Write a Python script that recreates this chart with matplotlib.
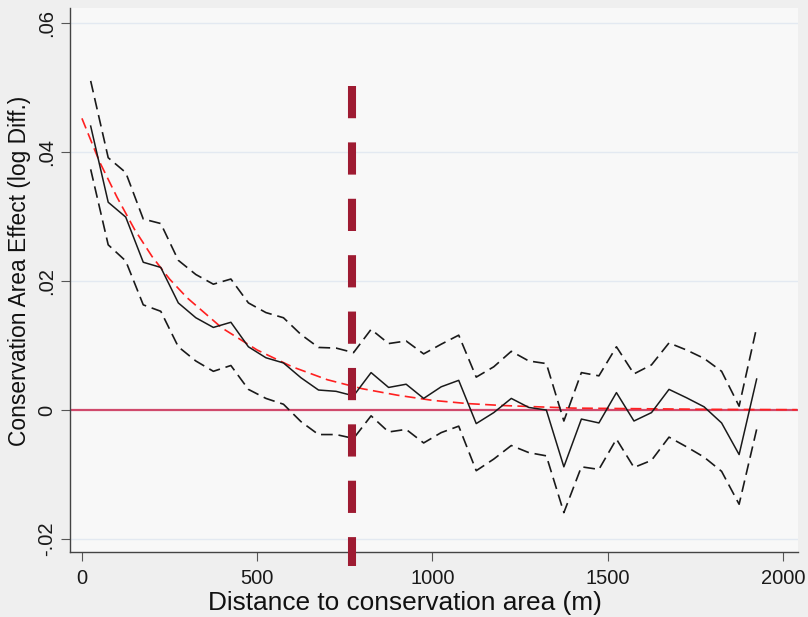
import matplotlib
matplotlib.use('Agg')
import matplotlib.pyplot as plt
import numpy as np

plt.rcParams['font.family'] = ['Liberation Sans', 'DejaVu Sans']

# distance bins (midpoints, m)
distance = [25, 75, 125, 175, 225, 275, 325, 375, 425, 475,
            525, 575, 625, 675, 725, 775, 825, 875, 925, 975,
            1025, 1075, 1125, 1175, 1225, 1275, 1325, 1375, 1425, 1475,
            1525, 1575, 1625, 1675, 1725, 1775, 1825, 1875, 1925]

# point estimate
effect = [0.0440, 0.0322, 0.0299, 0.0229, 0.0221, 0.0166, 0.0143, 0.0128, 0.0136, 0.0098,
          0.0081, 0.0073, 0.0050, 0.0031, 0.0029, 0.0022, 0.0058, 0.0035, 0.0040, 0.0018,
          0.0036, 0.0046, -0.0021, -0.0004, 0.0018, 0.0004, 0.0000, -0.0088, -0.0014, -0.0020,
          0.0027, -0.0017, -0.0004, 0.0032, 0.0019, 0.0005, -0.0020, -0.0069, 0.0048]

# upper / lower confidence bands
upper = [0.0510, 0.0391, 0.0368, 0.0296, 0.0289, 0.0232, 0.0210, 0.0195, 0.0203, 0.0166,
         0.0151, 0.0143, 0.0117, 0.0097, 0.0096, 0.0089, 0.0125, 0.0103, 0.0107, 0.0087,
         0.0102, 0.0116, 0.0051, 0.0067, 0.0091, 0.0076, 0.0072, -0.0017, 0.0058, 0.0053,
         0.0098, 0.0056, 0.0070, 0.0104, 0.0093, 0.0080, 0.0060, 0.0006, 0.0128]
lower = [0.0373, 0.0256, 0.0231, 0.0163, 0.0153, 0.0098, 0.0076, 0.0060, 0.0069, 0.0032,
         0.0018, 0.0009, -0.0018, -0.0038, -0.0038, -0.0044, -0.0009, -0.0034, -0.0030, -0.0051,
         -0.0035, -0.0025, -0.0094, -0.0076, -0.0055, -0.0066, -0.0071, -0.0159, -0.0088, -0.0092,
         -0.0045, -0.0089, -0.0078, -0.0042, -0.0057, -0.0073, -0.0095, -0.0146, -0.0030]

# fitted decay curve
fit_x = [0, 50, 100, 150, 200, 250, 300, 400, 500, 600, 700, 800,
         900, 1000, 1100, 1200, 1400, 1600, 1800, 2040]
fit_y = [0.0452, 0.0385, 0.0330, 0.0280, 0.0238, 0.0203, 0.0174, 0.0127, 0.0093, 0.0067,
         0.0047, 0.0033, 0.0023, 0.0015, 0.0010, 0.0007, 0.0003, 0.0002, 0.0001, 0.00005]

cutoff = 770
yticks = [-0.02, 0, 0.02, 0.04, 0.06]
ytick_labels = ['-.02', '0', '.02', '.04', '.06']
xticks = [0, 500, 1000, 1500, 2000]

fig = plt.figure(figsize=(8.08, 6.17), dpi=100, facecolor='#efefef')
ax = fig.add_axes([70 / 808, 65 / 617, 728 / 808, 544 / 617])
ax.set_facecolor('#f8f8f8')

for yv in yticks:
    if yv != 0:
        ax.axhline(yv, color='#e3e9f1', lw=1.0, zorder=0)
ax.axhline(0, color='#d04a6c', lw=1.6, zorder=1)

ax.plot(fit_x, fit_y, color='#ff2020', lw=1.2, dashes=(6.5, 3.2), zorder=2)
ax.plot(distance, upper, color='#1a1a1a', lw=1.2, dashes=(7, 3.5), zorder=3)
ax.plot(distance, lower, color='#1a1a1a', lw=1.2, dashes=(7, 3.5), zorder=3)
ax.plot(distance, effect, color='#1a1a1a', lw=1.1, zorder=4)

ax.plot([cutoff, cutoff], [0.0502, -0.0242], color='#9e1b32', lw=5.8,
        dashes=(4.0, 3.0), solid_capstyle='butt', dash_capstyle='butt',
        clip_on=False, zorder=5)

ax.set_xlim(-34, 2043)
ax.set_ylim(-0.0220, 0.0623)
ax.set_xticks(xticks)
ax.set_yticks(yticks)
ax.set_yticklabels(ytick_labels, rotation=90, va='center')

for side in ['top', 'right']:
    ax.spines[side].set_visible(False)
for side in ['left', 'bottom']:
    ax.spines[side].set_color('#444444')
    ax.spines[side].set_linewidth(1.0)

ax.tick_params(axis='both', length=6.5, width=0.8, color='#555555',
               labelsize=14.5, labelcolor='#1a1a1a')
ax.tick_params(axis='x', pad=5.5)
ax.tick_params(axis='y', pad=3.6)

ax.set_xlabel('Distance to conservation area (m)', fontsize=18.9, color='#111111', va='baseline')
ax.xaxis.set_label_coords(0.460, -0.1066)
ax.set_ylabel('Conservation Area Effect (log Diff.)', fontsize=16.4, color='#111111')
ax.yaxis.set_label_coords(-0.0536, 0.5165)

fig.savefig('out.png', dpi=100, facecolor=fig.get_facecolor())
